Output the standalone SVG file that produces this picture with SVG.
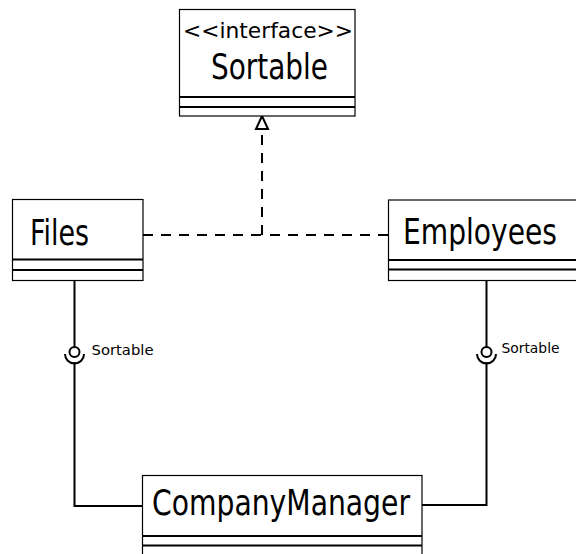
<svg xmlns="http://www.w3.org/2000/svg" width="576" height="554" viewBox="0 0 576 554">
<style>
.box{fill:#fff;stroke:#000;stroke-width:1.2}
.sep{stroke:#000;stroke-width:2}
.t{font-family:"DejaVu Sans","Liberation Sans",sans-serif;fill:#000}
.conn{fill:none;stroke:#000;stroke-width:2}
.dash{fill:none;stroke:#000;stroke-width:2;stroke-dasharray:10 8}
</style>
<rect x="0" y="0" width="576" height="554" fill="#fff"/>
<g id="connectors">
<path class="dash" d="M143,235 H262"/>
<path class="dash" d="M388,235 H262"/>
<path class="dash" d="M262,235 V129"/>
<polygon points="262,116 256,129 268,129" fill="#fff" stroke="#000" stroke-width="2"/>
<path class="conn" d="M74.5,280 V347"/>
<circle cx="74.5" cy="352" r="5" fill="#fff" stroke="#000" stroke-width="2"/>
<path class="conn" d="M65,354 A9.5,9.5 0 0 0 84,354"/>
<path class="conn" d="M74.5,362 V506 H143"/>
<path class="conn" d="M486.5,280 V347"/>
<circle cx="486.5" cy="352" r="5" fill="#fff" stroke="#000" stroke-width="2"/>
<path class="conn" d="M477,354 A9.5,9.5 0 0 0 496,354"/>
<path class="conn" d="M486.5,362 V505 H422"/>
<text class="t" x="91.5" y="355" font-size="14" textLength="62" lengthAdjust="spacingAndGlyphs">Sortable</text>
<text class="t" x="501.5" y="353" font-size="14" textLength="58" lengthAdjust="spacingAndGlyphs">Sortable</text>
</g>
<g id="Sortable">
<rect class="box" x="179.5" y="9.5" width="175.5" height="106.5"/>
<line class="sep" x1="179.5" y1="97" x2="355" y2="97"/>
<line class="sep" x1="179.5" y1="107" x2="355" y2="107"/>
<text class="t" x="183" y="38" font-size="22" textLength="170" lengthAdjust="spacingAndGlyphs">&lt;&lt;interface&gt;&gt;</text>
<text class="t" x="211" y="79" font-size="36" textLength="117" lengthAdjust="spacingAndGlyphs">Sortable</text>
</g>
<g id="Files">
<rect class="box" x="12.5" y="199.5" width="130.5" height="81"/>
<line class="sep" x1="12.5" y1="259.5" x2="143" y2="259.5"/>
<line class="sep" x1="12.5" y1="270" x2="143" y2="270"/>
<text class="t" x="30" y="244.5" font-size="36" textLength="59" lengthAdjust="spacingAndGlyphs">Files</text>
</g>
<g id="Employees">
<rect class="box" x="388.5" y="200" width="200" height="80.5"/>
<line class="sep" x1="388.5" y1="260" x2="576" y2="260"/>
<line class="sep" x1="388.5" y1="269.5" x2="576" y2="269.5"/>
<text class="t" x="403" y="243.5" font-size="35" textLength="154" lengthAdjust="spacingAndGlyphs">Employees</text>
</g>
<g id="CompanyManager">
<rect class="box" x="142.5" y="475.5" width="279.5" height="90"/>
<line class="sep" x1="142.5" y1="536" x2="422" y2="536"/>
<line class="sep" x1="142.5" y1="545.5" x2="422" y2="545.5"/>
<text class="t" x="152" y="515" font-size="36" textLength="258" lengthAdjust="spacingAndGlyphs">CompanyManager</text>
</g>
</svg>
